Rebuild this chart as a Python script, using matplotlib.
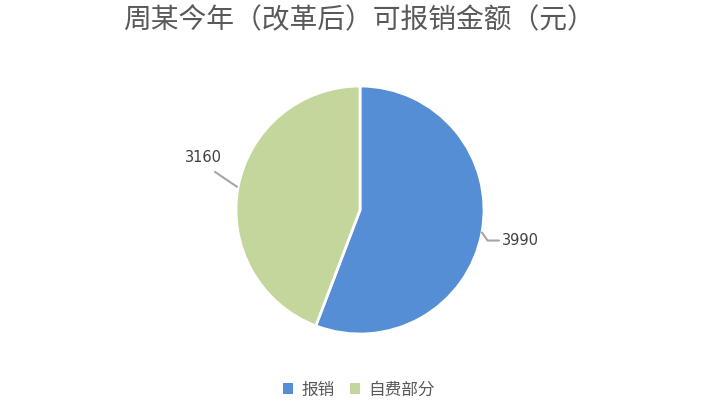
import numpy as np
import matplotlib
matplotlib.use("Agg")
import matplotlib.pyplot as plt
from matplotlib.patches import Patch

plt.rcParams['font.family'] = ['Noto Sans CJK SC', 'DejaVu Sans']

# data
labels = ['报销', '自费部分']
values = [3990, 3160]
colors = ['#558ED5', '#C3D69B']
title = '周某今年（改革后）可报销金额（元）'

fig = plt.figure(figsize=(7.18, 4.03), dpi=100)
fig.patch.set_facecolor('white')

# pie centre around (360, 210) px, radius ~124 px
W, H = 718, 403
r_px = 124
lim = 1.6
w = 2 * lim * r_px / W
h = 2 * lim * r_px / H
cx, cy = 360 / W, 1 - 210 / H
ax = fig.add_axes([cx - w / 2, cy - h / 2, w, h])

wedges, _ = ax.pie(values, colors=colors, startangle=90, counterclock=False,
                   radius=1.0, wedgeprops=dict(edgecolor='white', linewidth=2))
ax.set_xlim(-lim, lim)
ax.set_ylim(-lim, lim)
ax.set_aspect('equal')
ax.axis('off')

# data labels with leader lines
for wdg, v in zip(wedges, values):
    ang = np.deg2rad((wdg.theta1 + wdg.theta2) / 2)
    x, y = np.cos(ang), np.sin(ang)
    if x > 0:
        ax.annotate(str(v), xy=(x, y), xytext=(x + 0.16, y - 0.065),
                    fontsize=10.5, family='DejaVu Sans', color='#404040',
                    ha='left', va='center',
                    arrowprops=dict(arrowstyle='-', color='#A6A6A6', lw=1.5,
                                    connectionstyle='angle,angleA=0,angleB=-55,rad=0',
                                    shrinkA=0, shrinkB=0, relpos=(0, 0.5)))
    else:
        ax.annotate(str(v), xy=(x, y), xytext=(x - 0.28, y + 0.24),
                    fontsize=10.5, family='DejaVu Sans', color='#404040',
                    ha='center', va='center',
                    arrowprops=dict(arrowstyle='-', color='#A6A6A6', lw=1.5,
                                    shrinkA=5, shrinkB=1, relpos=(0.55, 0)))

fig.text(0.5, 1 - 20 / H, title, ha='center', va='center', fontsize=20,
         color='#595959')

handles = [Patch(facecolor=c, edgecolor='none') for c in colors]
fig.legend(handles, labels, loc='center', bbox_to_anchor=(0.5, 1 - 390 / H),
           ncol=2, frameon=False, fontsize=12, handlelength=0.6, handleheight=0.6,
           handletextpad=0.5, columnspacing=0.9, labelcolor='#595959')

fig.savefig('out.png', dpi=100, facecolor='white')
